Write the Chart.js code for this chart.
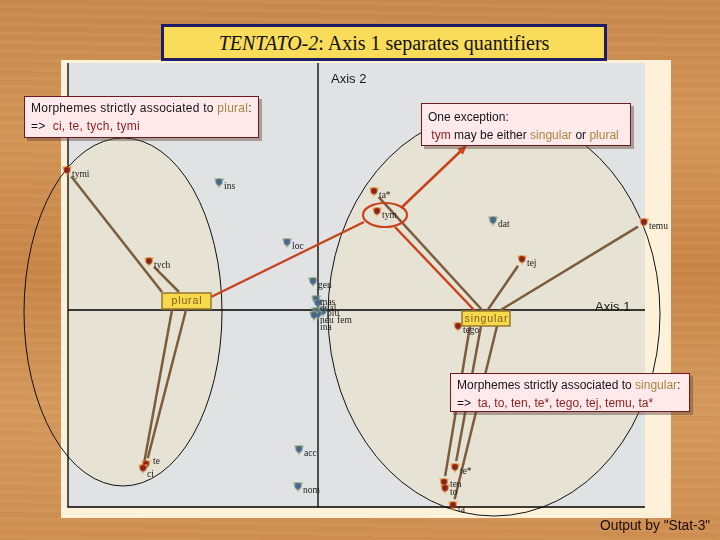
<!DOCTYPE html>
<html>
<head>
<meta charset="utf-8">
<script src="https://cdn.jsdelivr.net/npm/chart.js@4.4.1/dist/chart.umd.min.js"></script>
<style>
html, body { margin: 0; padding: 0; }
body {
    width: 720px; height: 540px; overflow: hidden; position: relative;
    font-family: "Liberation Sans", Arial, sans-serif;
    background:
        repeating-linear-gradient(1deg, rgba(110,55,15,0.05) 0 1px, rgba(255,210,150,0.03) 1px 5px, rgba(120,60,20,0.03) 5px 9px),
        linear-gradient(180deg, #c98a4f 0%, #d49658 25%, #c98749 50%, #d69a5e 75%, #d09053 100%);
}
#panel { position: absolute; left: 61px; top: 60px; width: 610px; height: 458px; background: #fdf1d9; }
#chart { position: absolute; left: 0; top: 0; }
.title {
    position: absolute; left: 161px; top: 24px; width: 440px; height: 31px;
    background: #f9dc5a; border: 3px solid #1d1d66;
    font-family: "Liberation Serif", "Times New Roman", serif; font-size: 20px; color: #111;
    text-align: center; line-height: 33px;
}
.note {
    position: absolute; background: #ffe9ea; border: 1px solid #6e1b1f;
    box-shadow: 3px 3px 0 rgba(95,70,60,0.45);
    font-size: 12px; color: #151515; line-height: 18px; padding: 2px 6px; box-sizing: border-box;
    white-space: nowrap;
}
.tan { color: #a8873f; }
.red { color: #8a1d1d; }
.credit { position: absolute; left: 600px; top: 518px; font-size: 13.8px; color: #1e0c08; }
</style>
</head>
<body>
<div id="panel"></div>
<canvas id="chart" width="720" height="540"></canvas>
<div class="title"><i>TENTATO-2</i>: Axis 1 separates quantifiers</div>
<div class="note" style="left:24px; top:96px; width:235px; height:42px; letter-spacing:0.25px;">
    Morphemes strictly associated to <span class="tan">plural</span>:<br>
    =&gt;&nbsp; <span class="red">ci, te, tych, tymi</span>
</div>
<div class="note" style="left:421px; top:103px; width:210px; height:43px; padding-top:4px;">
    One exception:<br>
    &nbsp;<span class="red">tym</span> may be either <span class="tan">singular</span> or <span class="tan">plural</span>
</div>
<div class="note" style="left:450px; top:373px; width:240px; height:39px;">
    Morphemes strictly associated to <span class="tan">singular</span>:<br>
    =&gt;&nbsp; <span class="red">ta, to, ten, te*, tego, tej, temu, ta*</span>
</div>
<div class="credit">Output by "Stat-3"</div>

<script>
// morphemes (red markers): coordinates on axis 1 / axis 2
const morphemeNames = ['tymi', 'tych', 'te', 'ci', 'ta*', 'tym', 'tej', 'temu', 'tego', 'te*', 'ten', 'to', 'ta'];
const morphemeX = [-2.51, -1.69, -1.72, -1.75, 0.56, 0.59, 2.04, 3.26, 1.40, 1.37, 1.26, 1.27, 1.35];
const morphemeY = [1.39, 0.48, -1.55, -1.59, 1.18, 0.98, 0.50, 0.87, -0.17, -1.58, -1.73, -1.79, -1.96];

// grammatical categories (blue markers)
const categoryNames = ['ins', 'loc', 'dat', 'gen', 'mas', 'dual', 'plu', 'neu', 'fem', 'ina', 'acc', 'nom'];
const categoryX = [-0.99, -0.31, 1.75, -0.05, -0.02, 0.00, 0.05, -0.02, 0.00, -0.04, -0.19, -0.20];
const categoryY = [1.27, 0.67, 0.89, 0.28, 0.10, 0.06, -0.02, -0.02, -0.05, -0.06, -1.40, -1.77];

// links from the plural / singular labels to the morphemes
const pluralLinks = [['tymi', -1.56, 0.18], ['tych', -1.39, 0.18], ['ci', -1.46, 0.00], ['te', -1.32, 0.00]];
const singularLinks = [['ta*', 1.65, -0.01], ['tej', 1.69, -0.01], ['temu', 1.81, -0.01],
                       ['ten', 1.52, -0.16], ['te*', 1.63, -0.16], ['ta', 1.79, -0.16]];
// the tym exception (x1, y1, x2, y2)
const tymLinks = [[-1.07, 0.13, 0.46, 0.88], [0.83, 1.02, 1.47, 1.63], [0.77, 0.83, 1.57, -0.01]];

const ellipses = [
    { cx: -1.95, cy: -0.02, rx: 0.99, ry: 1.74 },
    { cx: 1.76, cy: -0.04, rx: 1.66, ry: 2.02 }
];
const tymRing = { cx: 0.67, cy: 0.95, rx: 0.22, ry: 0.12 };
const tags = [
    { text: 'plural', cx: -1.315, cy: 0.09, w: 49, h: 16 },
    { text: 'singular', cx: 1.68, cy: -0.085, w: 48, h: 15 }
];

const labelOffsets = {
    'mas': [4, 2], 'dual': [2, 4], 'plu': [4, 1], 'neu': [4, 8], 'fem': [19, 5], 'ina': [6, 11],
    'te': [7, -4], 'ci': [4, 5], 'ten': [6, 1], 'to': [5, 3]
};

function makeMarker(tri, dot) {
    const c = document.createElement('canvas');
    c.width = 11; c.height = 11;
    const g = c.getContext('2d');
    g.fillStyle = tri;
    g.beginPath(); g.moveTo(0.5, 1); g.lineTo(10.5, 1); g.lineTo(5.5, 10.5); g.closePath(); g.fill();
    g.fillStyle = dot;
    g.beginPath(); g.arc(5.5, 4.5, 3.2, 0, Math.PI * 2); g.fill();
    return c;
}

const points = {};
morphemeNames.forEach((n, i) => points[n] = { x: morphemeX[i], y: morphemeY[i] });
categoryNames.forEach((n, i) => points[n] = { x: categoryX[i], y: categoryY[i] });

function trimmed(x1, y1, p, cut) {
    const dx = p.x - x1, dy = p.y - y1;
    const len = Math.sqrt(dx * dx + dy * dy);
    return { x: p.x - dx / len * cut, y: p.y - dy / len * cut };
}

function lineSet(a, b, color) {
    return { data: [a, b], showLine: true, borderColor: color, borderWidth: 2.5, pointRadius: 0, clip: false };
}

const datasets = [
    {
        data: morphemeNames.map(n => points[n]),
        pointStyle: makeMarker('#f3a04a', '#8c2410'), pointRadius: 5, clip: false
    },
    {
        data: categoryNames.map(n => points[n]),
        pointStyle: makeMarker('#8fa56e', '#46678a'), pointRadius: 5, clip: false
    }
];
pluralLinks.concat(singularLinks).forEach(([name, sx, sy]) => {
    datasets.push(lineSet({ x: sx, y: sy }, trimmed(sx, sy, points[name], 0.07), '#7b5c3c'));
});
tymLinks.forEach(([x1, y1, x2, y2]) => {
    datasets.push(lineSet({ x: x1, y: y1 }, { x: x2, y: y2 }, '#c8431c'));
});

function ellipsePath(ctx, x, y, e) {
    const px = x.getPixelForValue(e.cx), py = y.getPixelForValue(e.cy);
    const rx = x.getPixelForValue(e.cx + e.rx) - px;
    const ry = py - y.getPixelForValue(e.cy + e.ry);
    ctx.beginPath();
    ctx.ellipse(px, py, rx, ry, 0, 0, Math.PI * 2);
}

const backdrop = {
    id: 'backdrop',
    beforeDatasetsDraw(chart) {
        const { ctx, chartArea: a, scales: { x, y } } = chart;
        ctx.save();
        ctx.fillStyle = '#e1e2e4';
        ctx.fillRect(a.left, a.top, a.right - a.left, a.bottom - a.top);
        ctx.save();
        ctx.beginPath(); ctx.rect(a.left, a.top, a.right - a.left, a.bottom - a.top); ctx.clip();
        ctx.fillStyle = '#e7e3d4';
        ellipses.forEach(e => { ellipsePath(ctx, x, y, e); ctx.fill(); });
        ctx.restore();
        ctx.strokeStyle = '#111'; ctx.lineWidth = 1;
        ellipses.forEach(e => { ellipsePath(ctx, x, y, e); ctx.stroke(); });

        const x0 = x.getPixelForValue(0), y0 = y.getPixelForValue(0);
        ctx.lineWidth = 1.3; ctx.strokeStyle = '#000';
        ctx.beginPath();
        ctx.moveTo(a.left, y0); ctx.lineTo(a.right, y0);
        ctx.moveTo(x0, a.top); ctx.lineTo(x0, a.bottom);
        ctx.moveTo(a.left, a.top); ctx.lineTo(a.left, a.bottom); ctx.lineTo(a.right, a.bottom);
        ctx.stroke();

        ctx.fillStyle = '#1a1a1a';
        ctx.font = '13px "Liberation Sans", Arial, sans-serif';
        ctx.textBaseline = 'alphabetic';
        ctx.fillText('Axis 2', x0 + 13, a.top + 20);
        ctx.fillText('Axis 1', a.right - 50, y0 + 1);
        ctx.restore();
    },
    afterDatasetsDraw(chart) {
        const { ctx, scales: { x, y } } = chart;
        ctx.save();
        // labels
        ctx.font = '9.5px "Liberation Serif", "Times New Roman", serif';
        ctx.fillStyle = '#202020';
        ctx.textBaseline = 'middle';
        Object.keys(points).forEach(n => {
            const off = labelOffsets[n] || [5, 3];
            ctx.fillText(n, x.getPixelForValue(points[n].x) + off[0], y.getPixelForValue(points[n].y) + off[1]);
        });
        // ring around tym
        ctx.strokeStyle = '#c8431c'; ctx.lineWidth = 2.2;
        ellipsePath(ctx, x, y, tymRing); ctx.stroke();
        // arrow head towards the exception note
        const l = tymLinks[1];
        const ax = x.getPixelForValue(l[2]), ay = y.getPixelForValue(l[3]);
        const ang = Math.atan2(ay - y.getPixelForValue(l[1]), ax - x.getPixelForValue(l[0]));
        ctx.fillStyle = '#c8431c';
        ctx.beginPath();
        ctx.moveTo(ax + Math.cos(ang) * 3, ay + Math.sin(ang) * 3);
        ctx.lineTo(ax + Math.cos(ang + 2.6) * 8, ay + Math.sin(ang + 2.6) * 8);
        ctx.lineTo(ax + Math.cos(ang - 2.6) * 8, ay + Math.sin(ang - 2.6) * 8);
        ctx.closePath(); ctx.fill();
        // plural / singular tags
        ctx.font = '10.5px "Liberation Sans", Arial, sans-serif';
        ctx.textAlign = 'center';
        tags.forEach(t => {
            const cx = x.getPixelForValue(t.cx), cy = y.getPixelForValue(t.cy);
            ctx.fillStyle = '#f8d94c';
            ctx.fillRect(cx - t.w / 2, cy - t.h / 2, t.w, t.h);
            ctx.strokeStyle = '#97772e'; ctx.lineWidth = 1.5;
            ctx.strokeRect(cx - t.w / 2, cy - t.h / 2, t.w, t.h);
            ctx.fillStyle = '#7c5d22';
            ctx.fillText(t.text.split('').join(String.fromCharCode(8202)), cx, cy + 0.5);
        });
        ctx.restore();
    }
};

new Chart(document.getElementById('chart'), {
    type: 'scatter',
    data: { datasets: datasets },
    options: {
        responsive: false,
        animation: false,
        layout: { padding: { left: 68, right: 75, top: 63, bottom: 33 } },
        scales: {
            x: { type: 'linear', min: -2.50, max: 3.27, display: false },
            y: { type: 'linear', min: -1.97, max: 2.47, display: false }
        },
        plugins: { legend: { display: false }, tooltip: { enabled: false } }
    },
    plugins: [backdrop]
});
</script>
</body>
</html>
